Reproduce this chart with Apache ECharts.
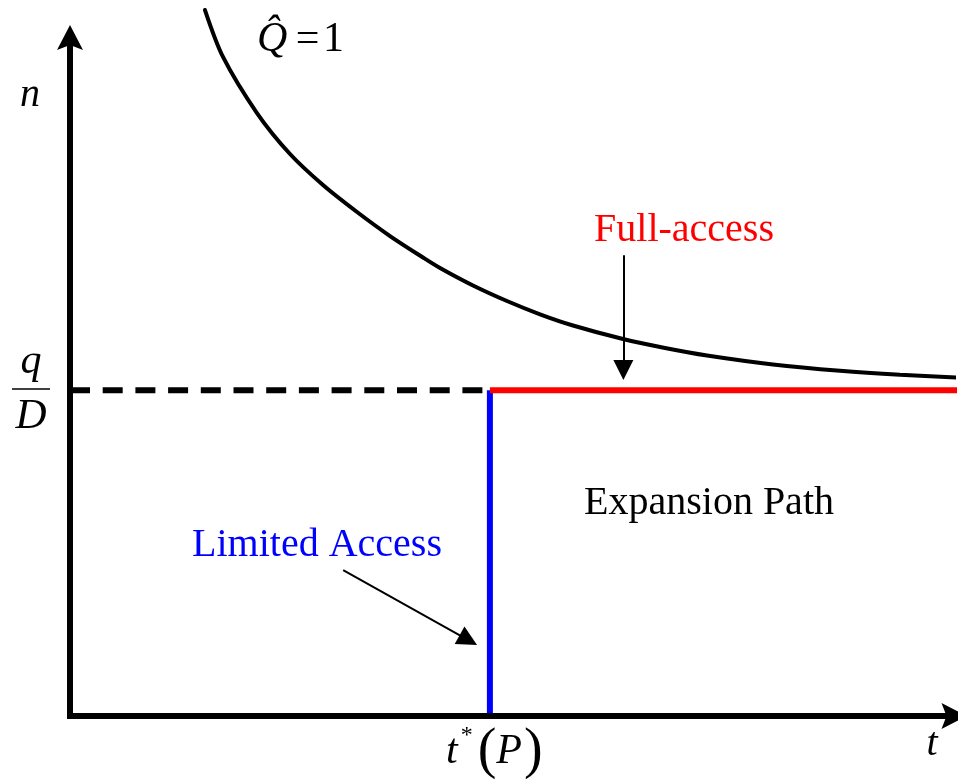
<!DOCTYPE html>
<html>
<head>
<meta charset="utf-8">
<script src="https://cdn.jsdelivr.net/npm/echarts@6/dist/echarts.min.js"></script>
<style>
  html, body { margin: 0; padding: 0; background: #fff; }
  #chart { width: 958px; height: 780px; }
</style>
</head>
<body>
<div id="chart"></div>
<script>
// Iso-quality curve Q̂ = 1 : time t against number n
const curveT = [15.27, 17.31, 21.15, 24.89, 28.62, 32.47, 36.20, 39.93, 41.86, 45.59, 49.43, 53.17, 56.90, 62.56, 67.31, 72.06, 79.52, 87.10, 93.89, 100.45];
const curveN = [104.05, 97.13, 88.87, 82.83, 78.26, 74.28, 70.74, 67.58, 66.03, 63.45, 61.16, 59.20, 57.55, 55.56, 54.24, 53.13, 51.81, 50.88, 50.29, 49.89];

// Threshold level q/D and the switching time t*(P)
const qOverD = 48;
const tStar = 47.5;
const tEnd = 100.5;

// Pointer arrows: [from, to] in (t, n); the head is centred on the end point
const fullAccessPointer = [[62.6, 67.9], [62.6, 51.0]];
const limitedAccessPointer = [[30.9, 21.5], [45.06, 11.19]];

const serif = '"Liberation Serif", "Times New Roman", serif';
const axisArrow = 'path://M0,0 L13,25 L0,20 L-13,25 Z';

const chart = echarts.init(document.getElementById('chart'), null, { renderer: 'canvas' });

const axisCommon = {
  type: 'value',
  min: 0,
  max: 100,
  z: 10,
  axisLine: {
    show: true,
    onZero: false,
    symbol: ['none', axisArrow],
    symbolSize: [26, 25],
    lineStyle: { color: '#000', width: 6, cap: 'square' }
  },
  axisTick: { show: false },
  axisLabel: { show: false },
  splitLine: { show: false }
};

chart.setOption({
  animation: false,
  backgroundColor: '#fff',
  grid: { left: 70, right: 4, top: 37.5, bottom: 64 },
  xAxis: axisCommon,
  yAxis: axisCommon,
  series: [
    {
      name: 'Q̂ = 1',
      type: 'line',
      data: curveT.map((t, i) => [t, curveN[i]]),
      smooth: 0.3,
      showSymbol: false,
      clip: false,
      lineStyle: { color: '#000', width: 4, cap: 'round' },
      silent: true
    },
    {
      name: 'q/D',
      type: 'line',
      data: [[0, qOverD], [tStar - 0.3, qOverD]],
      showSymbol: false,
      lineStyle: { color: '#000', width: 6, type: [20, 12.7] },
      silent: true
    },
    {
      name: 'Limited Access',
      type: 'line',
      data: [[tStar, 0], [tStar, qOverD]],
      showSymbol: false,
      lineStyle: { color: '#0000ff', width: 6 },
      silent: true
    },
    {
      name: 'Full-access',
      type: 'line',
      data: [[tStar, qOverD], [tEnd, qOverD]],
      showSymbol: false,
      clip: false,
      lineStyle: { color: '#ff0000', width: 6 },
      silent: true
    },
    {
      name: 'pointers',
      type: 'line',
      data: [],
      markLine: {
        silent: true,
        animation: false,
        symbol: ['none', 'triangle'],
        symbolSize: 20,
        label: { show: false },
        lineStyle: { color: '#000', width: 2, type: 'solid' },
        emphasis: { disabled: true },
        data: [
          [{ coord: fullAccessPointer[0] }, { coord: fullAccessPointer[1] }],
          [{ coord: limitedAccessPointer[0] }, { coord: limitedAccessPointer[1] }]
        ]
      }
    }
  ],
  graphic: [
    {
      type: 'text', x: 257, y: 40,
      style: {
        text: '{q|Q\u0302}{e|\u2009=\u200a1}',
        align: 'left', verticalAlign: 'middle',
        rich: {
          q: { font: 'italic 42px ' + serif, fill: '#000' },
          e: { font: '42px ' + serif, fill: '#000' }
        }
      }
    },
    {
      type: 'text', x: 30, y: 95,
      style: { text: 'n', font: 'italic 40px ' + serif, fill: '#000', align: 'center', verticalAlign: 'middle' }
    },
    {
      type: 'text', x: 31, y: 362,
      style: { text: 'q', font: 'italic 42px ' + serif, fill: '#000', align: 'center', verticalAlign: 'middle' }
    },
    {
      type: 'line',
      shape: { x1: 12, y1: 389, x2: 50, y2: 389 },
      style: { stroke: '#000', lineWidth: 1.6 }
    },
    {
      type: 'text', x: 31, y: 417,
      style: { text: 'D', font: 'italic 43px ' + serif, fill: '#000', align: 'center', verticalAlign: 'middle' }
    },
    {
      type: 'text', x: 932, y: 744,
      style: { text: 't', font: 'italic 40px ' + serif, fill: '#000', align: 'center', verticalAlign: 'middle' }
    },
    {
      type: 'text', x: 446, y: 752,
      style: {
        text: '{t|t}{s|*}{p|(}{P|P}{p|)}',
        align: 'left', verticalAlign: 'middle',
        rich: {
          t: { font: 'italic 42px ' + serif, fill: '#000' },
          s: { font: '24px ' + serif, fill: '#000', verticalAlign: 'top', padding: [0, 5, 14, 3] },
          p: { font: '56px ' + serif, fill: '#000' },
          P: { font: 'italic 42px ' + serif, fill: '#000', padding: [0, 2, 0, 0] }
        }
      }
    },
    {
      type: 'text', x: 684, y: 230,
      style: { text: 'Full-access', font: '40px ' + serif, fill: '#ff0000', align: 'center', verticalAlign: 'middle' }
    },
    {
      type: 'text', x: 317, y: 545,
      style: { text: 'Limited Access', font: '40px ' + serif, fill: '#0000ff', align: 'center', verticalAlign: 'middle' }
    },
    {
      type: 'text', x: 709, y: 503,
      style: { text: 'Expansion Path', font: '40px ' + serif, fill: '#000', align: 'center', verticalAlign: 'middle' }
    }
  ]
});
</script>
</body>
</html>
